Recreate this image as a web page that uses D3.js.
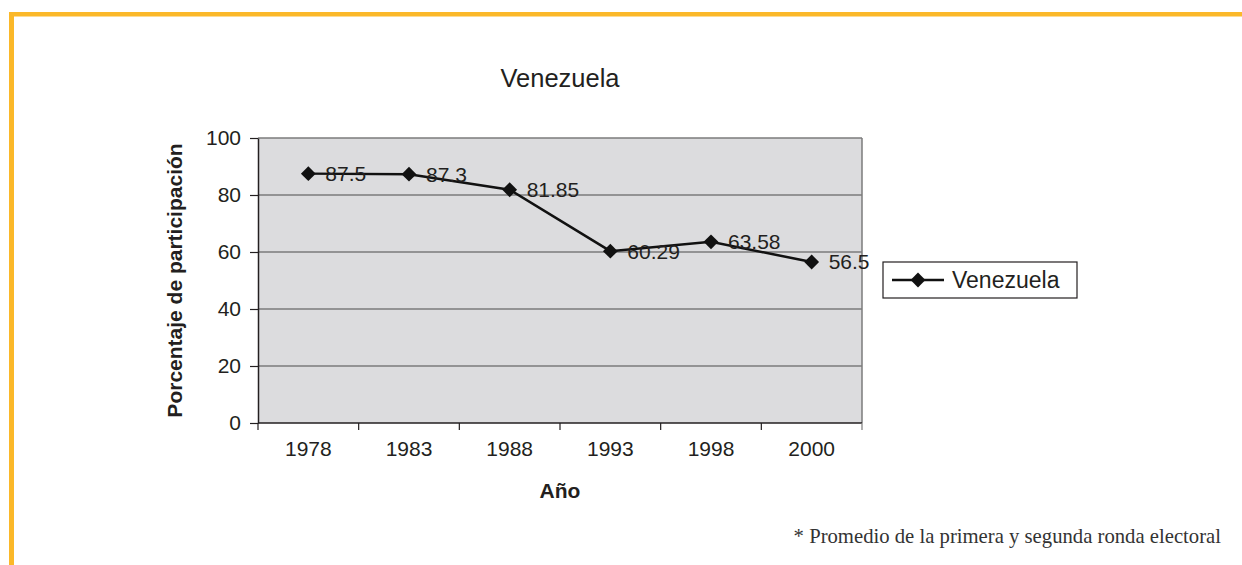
<!DOCTYPE html>
<html>
<head>
<meta charset="utf-8">
<script src="https://cdn.jsdelivr.net/npm/d3@7"></script>
<style>
  html, body { margin: 0; padding: 0; background: #fff; }
  svg { display: block; }
</style>
</head>
<body>
<svg id="chart" width="1242" height="565"></svg>
<script>
// Electoral participation in Venezuela, by election year
const years = ["1978", "1983", "1988", "1993", "1998", "2000"];
const participation = [87.5, 87.3, 81.85, 60.29, 63.58, 56.5];
const yTicks = [0, 20, 40, 60, 80, 100];
const seriesName = "Venezuela";
const chartTitle = "Venezuela";
const yTitle = "Porcentaje de participación";
const xTitle = "Año";
const footnote = "* Promedio de la primera y segunda ronda electoral";

const svg = d3.select("#chart");
const font = "Arial, 'Liberation Sans', sans-serif";
const ink = "#231f20";

// Orange frame (top and left edges)
svg.append("rect").attr("x", 9).attr("y", 12).attr("width", 1233).attr("height", 4.5).attr("fill", "#fbb829");
svg.append("rect").attr("x", 9).attr("y", 12).attr("width", 5).attr("height", 553).attr("fill", "#fbb829");

const plot = { left: 258, right: 862, top: 138, bottom: 423 };

const x = d3.scaleBand().domain(years).range([plot.left, plot.right]).padding(0);
const y = d3.scaleLinear().domain([0, 100]).range([plot.bottom, plot.top]);

// Plot background
svg.append("rect")
  .attr("x", plot.left).attr("y", plot.top)
  .attr("width", plot.right - plot.left).attr("height", plot.bottom - plot.top)
  .attr("fill", "#dcdcde");

// Horizontal gridlines
svg.append("g").selectAll("line").data(yTicks.filter(t => t > 0)).join("line")
  .attr("x1", plot.left).attr("x2", plot.right)
  .attr("y1", d => y(d)).attr("y2", d => y(d))
  .attr("stroke", "#7b7b7b").attr("stroke-width", 1.5);

// Right border of the plot area
svg.append("line")
  .attr("x1", plot.right).attr("x2", plot.right)
  .attr("y1", plot.top).attr("y2", plot.bottom)
  .attr("stroke", "#7b7b7b").attr("stroke-width", 1.5);

// Y axis
const yAxis = svg.append("g")
  .attr("transform", `translate(${plot.left},0)`)
  .call(d3.axisLeft(y).tickValues(yTicks).tickSize(8).tickPadding(9).tickSizeOuter(0));
yAxis.select(".domain").attr("stroke", ink).attr("stroke-width", 1.5);
yAxis.selectAll(".tick line").attr("stroke", ink).attr("stroke-width", 1.2);
yAxis.selectAll(".tick text")
  .attr("font-family", font).attr("font-size", 21).attr("fill", ink);

// X axis: ticks at band boundaries, labels at band centres
const xAxisG = svg.append("g").attr("transform", `translate(0,${plot.bottom})`);
xAxisG.append("line")
  .attr("x1", plot.left).attr("x2", plot.right)
  .attr("stroke", ink).attr("stroke-width", 1.5);
const boundaries = years.map(d => x(d)).concat([x(years[years.length - 1]) + x.bandwidth()]);
xAxisG.selectAll("line.tk").data(boundaries).join("line")
  .attr("class", "tk")
  .attr("x1", d => d).attr("x2", d => d)
  .attr("y1", 0).attr("y2", 7)
  .attr("stroke", (d, i) => i === boundaries.length - 1 ? "#7b7b7b" : ink)
  .attr("stroke-width", 1.2);
xAxisG.selectAll("text").data(years).join("text")
  .attr("x", d => x(d) + x.bandwidth() / 2)
  .attr("y", 33)
  .attr("text-anchor", "middle")
  .attr("font-family", font).attr("font-size", 21).attr("fill", ink)
  .text(d => d);

// Title
svg.append("text")
  .attr("x", 560).attr("y", 87)
  .attr("text-anchor", "middle")
  .attr("font-family", font).attr("font-size", 25.5).attr("fill", ink)
  .text(chartTitle);

// Axis titles
svg.append("text")
  .attr("transform", `translate(182,${(plot.top + plot.bottom) / 2}) rotate(-90)`)
  .attr("text-anchor", "middle")
  .attr("font-family", font).attr("font-size", 21).attr("font-weight", "bold").attr("fill", ink)
  .text(yTitle);
svg.append("text")
  .attr("x", 560).attr("y", 498)
  .attr("text-anchor", "middle")
  .attr("font-family", font).attr("font-size", 21).attr("font-weight", "bold").attr("fill", ink)
  .text(xTitle);

// Series line
const cx = (d, i) => x(years[i]) + x.bandwidth() / 2;
const line = d3.line().x((d, i) => cx(d, i)).y(d => y(d));
svg.append("path")
  .datum(participation)
  .attr("d", line)
  .attr("fill", "none").attr("stroke", "#111").attr("stroke-width", 2.5);

// Diamond markers
const diamond = d3.symbol().type(d3.symbolSquare).size(110);
svg.append("g").selectAll("path").data(participation).join("path")
  .attr("d", diamond)
  .attr("transform", (d, i) => `translate(${cx(d, i)},${y(d)}) rotate(45)`)
  .attr("fill", "#111");

// Value labels
svg.append("g").selectAll("text").data(participation).join("text")
  .attr("x", (d, i) => cx(d, i) + 17)
  .attr("y", d => y(d) + 7.5)
  .attr("font-family", font).attr("font-size", 21).attr("fill", ink)
  .text(d => String(d));

// Legend
const lg = svg.append("g");
lg.append("rect")
  .attr("x", 883).attr("y", 262).attr("width", 194).attr("height", 36)
  .attr("fill", "#fff").attr("stroke", ink).attr("stroke-width", 1.2);
lg.append("line")
  .attr("x1", 892).attr("x2", 944).attr("y1", 280).attr("y2", 280)
  .attr("stroke", "#111").attr("stroke-width", 2.5);
lg.append("path")
  .attr("d", diamond)
  .attr("transform", "translate(918,280) rotate(45)")
  .attr("fill", "#111");
lg.append("text")
  .attr("x", 952).attr("y", 288)
  .attr("font-family", font).attr("font-size", 23).attr("fill", ink)
  .text(seriesName);

// Footnote
svg.append("text")
  .attr("x", 1221).attr("y", 543)
  .attr("text-anchor", "end")
  .attr("font-family", "'Liberation Serif', 'DejaVu Serif', serif").attr("font-size", 20.7).attr("fill", "#333")
  .text(footnote);
</script>
</body>
</html>
